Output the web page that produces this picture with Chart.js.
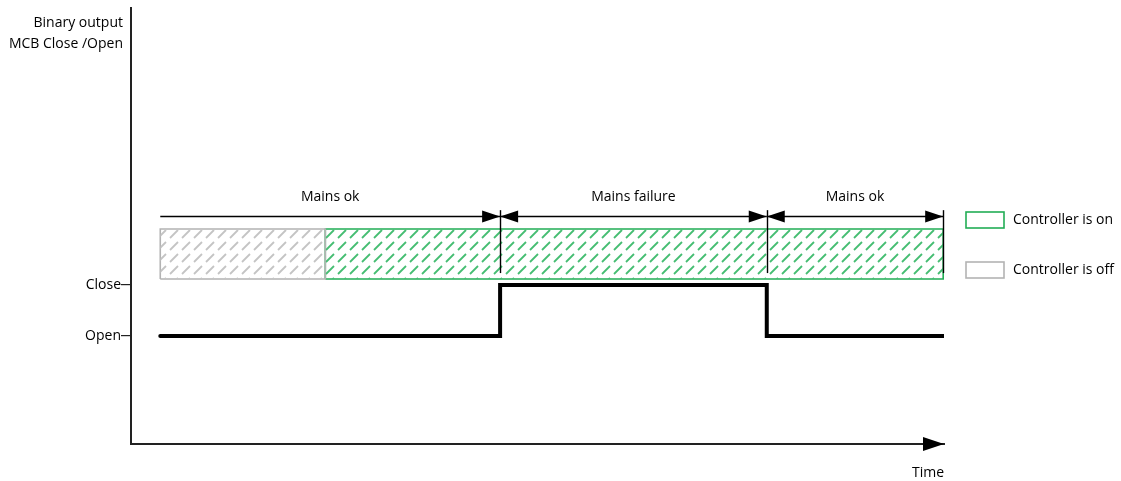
<!DOCTYPE html>
<html>
<head>
<meta charset="utf-8">
<script src="https://cdn.jsdelivr.net/npm/chart.js@4.4.1/dist/chart.umd.min.js"></script>
<style>
  html, body { margin: 0; padding: 0; background: #fff; }
  #wrap { width: 1121px; height: 481px; position: relative; }
</style>
</head>
<body>
<div id="wrap"><canvas id="chart"></canvas></div>
<script>
// Breaker output over time (0 = Open, 1 = Close)
const breakerTimes = [3.6, 45.4, 45.4, 78.2, 78.2, 99.9];
const breakerStates = [0, 0, 1, 1, 0, 0];
const yTickLabels = ['Open', 'Close'];

// Mains phases shown with arrows above the controller band
const phaseLabels = ['Mains ok', 'Mains failure', 'Mains ok'];
const phaseEdges = [3.6, 45.4, 78.2, 99.9];

// Controller state band: off from first to second edge, on after
const controllerEdges = [3.6, 23.9, 99.9];
const legendLabels = ['Controller is on', 'Controller is off'];

const FONT = '"Open Sans", "Noto Sans", sans-serif';
const GREEN = '#22ad55';
const GREEN_HATCH = '#45bd72';
const GRAY = '#b3b3b3';
const GRAY_HATCH = '#c4c4c4';

const BAND_LOW = 1.12, BAND_HIGH = 2.1;
const ARROW_Y = 2.35, MARK_TOP = 2.47, MARK_BOTTOM = 1.235, LABEL_Y = 2.72;

function hatch(color) {
    const c = document.createElement('canvas');
    c.width = 12; c.height = 12;
    const g = c.getContext('2d');
    g.strokeStyle = color;
    g.lineWidth = 1.8;
    g.lineCap = 'butt';
    g.beginPath();
    g.moveTo(2, 10);
    g.lineTo(10, 2);
    g.stroke();
    return g.createPattern(c, 'repeat');
}

function bandFill(x0, x1, pattern) {
    return {
        type: 'line',
        data: [{ x: x0, y: BAND_HIGH }, { x: x1, y: BAND_HIGH }],
        fill: { value: BAND_LOW },
        backgroundColor: pattern,
        borderWidth: 0,
        pointRadius: 0
    };
}

function bandBorder(x0, x1, color) {
    return {
        type: 'line',
        data: [
            { x: x0, y: BAND_LOW }, { x: x1, y: BAND_LOW }, { x: x1, y: BAND_HIGH },
            { x: x0, y: BAND_HIGH }, { x: x0, y: BAND_LOW }
        ],
        fill: false,
        borderColor: color,
        borderWidth: 1.6,
        pointRadius: 0
    };
}

function arrowHead(ctx, x, y, dir, len, half) {
    ctx.beginPath();
    ctx.moveTo(x, y);
    ctx.lineTo(x - dir * len, y - half);
    ctx.lineTo(x - dir * len, y + half);
    ctx.closePath();
    ctx.fill();
}

const extras = {
    id: 'extras',
    afterDatasetsDraw(chart) {
        const { ctx, chartArea, scales: { x, y } } = chart;
        ctx.save();
        ctx.fillStyle = '#000';
        ctx.strokeStyle = '#000';

        // x axis arrow head
        arrowHead(ctx, chartArea.right, chartArea.bottom, 1, 21, 7);

        // phase markers
        ctx.lineWidth = 1.4;
        phaseEdges.slice(1).forEach(t => {
            const px = Math.round(x.getPixelForValue(t)) + 0.5;
            ctx.beginPath();
            ctx.moveTo(px, y.getPixelForValue(MARK_TOP));
            ctx.lineTo(px, y.getPixelForValue(MARK_BOTTOM));
            ctx.stroke();
        });

        // phase arrows
        const ay = Math.round(y.getPixelForValue(ARROW_Y)) + 0.5;
        ctx.font = '14px ' + FONT;
        ctx.textAlign = 'center';
        ctx.textBaseline = 'middle';
        phaseLabels.forEach((label, i) => {
            const a = x.getPixelForValue(phaseEdges[i]);
            const b = x.getPixelForValue(phaseEdges[i + 1]);
            ctx.beginPath();
            ctx.moveTo(a, ay);
            ctx.lineTo(b, ay);
            ctx.stroke();
            arrowHead(ctx, b, ay, 1, 18, 6);
            if (i > 0) arrowHead(ctx, a, ay, -1, 18, 6);
            ctx.fillText(label, (a + b) / 2, y.getPixelForValue(LABEL_Y));
        });

        // y axis title
        ctx.textAlign = 'right';
        ctx.fillText('Binary output', 123, 23);
        ctx.fillText('MCB Close /Open', 123, 44);

        // legend
        const lx = chartArea.right + 22;
        const items = [[GREEN, 220], [GRAY, 270]];
        ctx.lineWidth = 1.6;
        ctx.textAlign = 'left';
        items.forEach(([col, cy], i) => {
            ctx.strokeStyle = col;
            ctx.strokeRect(lx, cy - 8, 38, 16);
            ctx.fillStyle = '#000';
            ctx.fillText(legendLabels[i], lx + 47, cy);
        });
        ctx.restore();
    }
};

new Chart(document.getElementById('chart'), {
    type: 'line',
    data: {
        datasets: [
            bandFill(controllerEdges[0], controllerEdges[1], hatch(GRAY_HATCH)),
            bandFill(controllerEdges[1], controllerEdges[2], hatch(GREEN_HATCH)),
            bandBorder(controllerEdges[0], controllerEdges[1], GRAY),
            bandBorder(controllerEdges[1], controllerEdges[2], GREEN),
            {
                type: 'line',
                data: breakerTimes.map((t, i) => ({ x: t, y: breakerStates[i] })),
                borderColor: '#000',
                borderWidth: 4,
                borderCapStyle: 'round',
                borderJoinStyle: 'miter',
                fill: false,
                pointRadius: 0
            }
        ]
    },
    plugins: [extras],
    options: {
        responsive: true,
        maintainAspectRatio: false,
        animation: false,
        layout: { padding: { top: 8, right: 177, left: 0, bottom: 0 } },
        plugins: { legend: { display: false }, tooltip: { enabled: false } },
        scales: {
            x: {
                type: 'linear',
                min: 0,
                max: 100,
                ticks: { display: false },
                grid: { display: false },
                border: { display: true, color: '#222', width: 2 },
                title: {
                    display: true, text: 'Time', align: 'end', color: '#000',
                    font: { family: FONT, size: 14 }, padding: { top: 14, bottom: 0 }
                },
                afterFit(scale) { scale.height = 37; }
            },
            y: {
                type: 'linear',
                min: -2.12,
                max: 6.43,
                afterBuildTicks(scale) { scale.ticks = [{ value: 0 }, { value: 1 }]; },
                ticks: {
                    color: '#000',
                    padding: 0,
                    font: { family: FONT, size: 14 },
                    callback: v => yTickLabels[v]
                },
                grid: { drawOnChartArea: false, drawTicks: true, tickLength: 10, color: '#222', lineWidth: 1.2 },
                border: { display: true, color: '#222', width: 2 },
                afterFit(scale) { scale.width = 131; }
            }
        }
    }
});
</script>
</body>
</html>
